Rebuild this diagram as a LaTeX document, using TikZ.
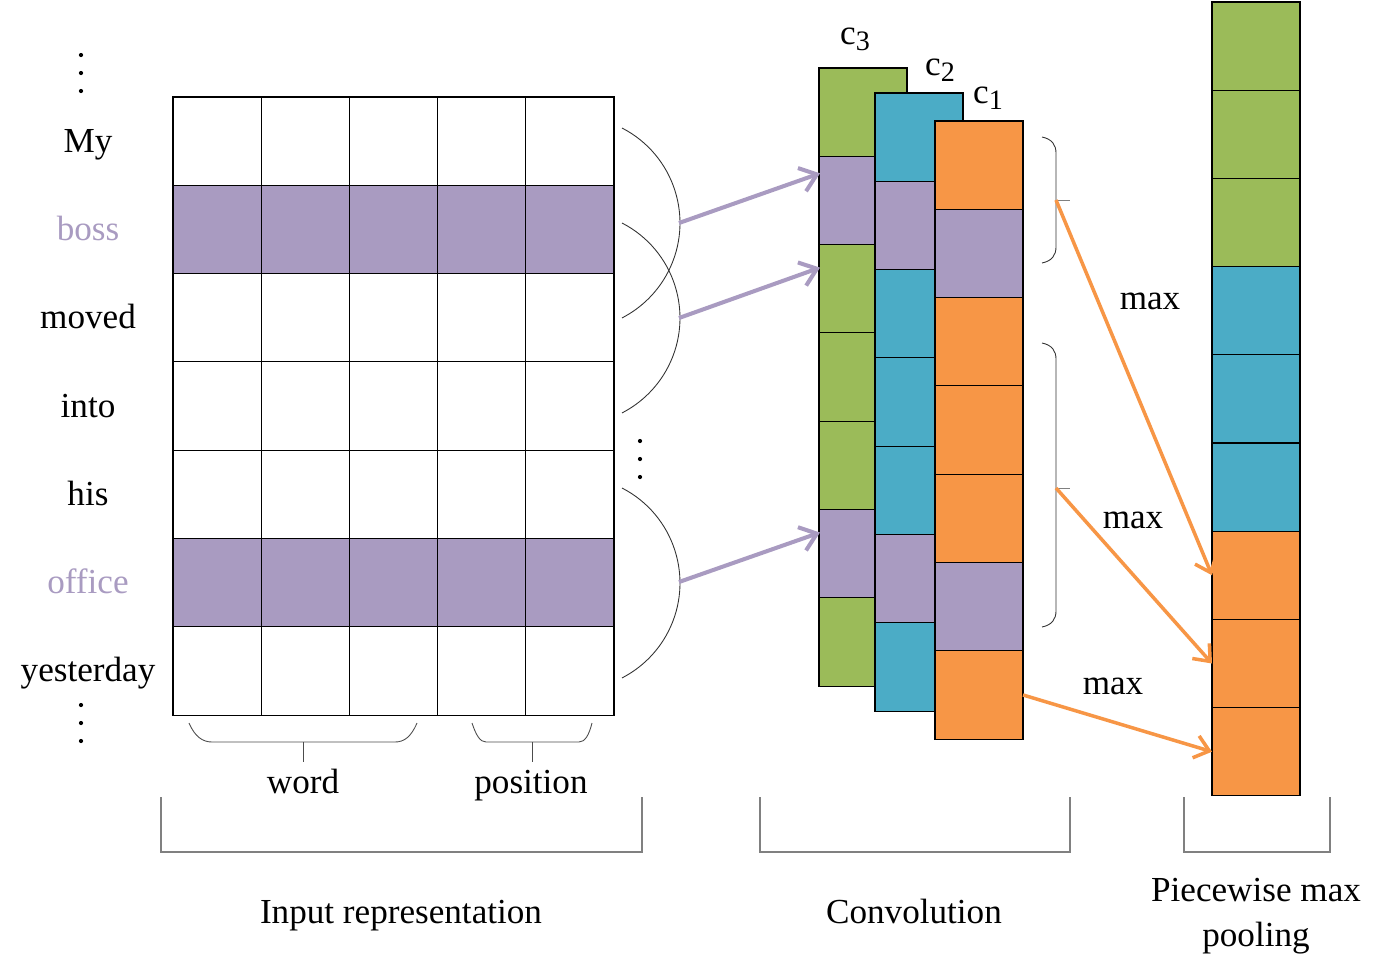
\documentclass[tikz,border=0pt]{standalone}
\usepackage{fontspec}
\setmainfont{Liberation Serif}
\usetikzlibrary{arrows.meta, positioning, calc}
\definecolor{cgreen}{HTML}{9BBB59}
\definecolor{cblue}{HTML}{4BACC6}
\definecolor{corange}{HTML}{F79646}
\definecolor{cpurple}{HTML}{A99BC1}
\newcommand{\csub}[1]{c\raisebox{-0.4ex}{\fontsize{16}{16}\selectfont #1}}

\begin{document}
\begin{tikzpicture}[
    x=0.02cm, y=-0.02cm,
    txt/.style={font=\fontsize{20}{25.5}\selectfont, inner sep=0pt, text height=1.6ex, text depth=0.3ex, yshift=-3.4pt},
    cell/.style={draw, line width=0.6pt, minimum width=1.765cm, minimum height=1.766cm, inner sep=0pt, outer sep=0pt},
    parrow/.style={line width=2.3pt, cpurple, -{Straight Barb[length=9pt, width=14pt]}},
    oarrow/.style={line width=2pt, corange, -{Straight Barb[length=8pt, width=13pt]}},
    arcline/.style={line width=0.5pt, black!80},
    group/.style={line width=0.9pt, gray},
]
    \useasboundingbox (0,0) rectangle (1390,971);

    % Input matrix
    \foreach \r/\col in {1/white,2/cpurple,3/white,4/white,5/white,6/cpurple,7/white}
        \foreach \c in {1,...,5}
            \node[cell, fill=\col] (in-\r-\c) at ({173+88.2*(\c-0.5)}, {97+88.3*(\r-0.5)}) {};

    % Words
    \node[txt] (w1) at (88,141) {My};
    \node[txt, text=cpurple] (w2) at (88,229) {boss};
    \node[txt] (w3) at (88,317) {moved};
    \node[txt] (w4) at (88,406) {into};
    \node[txt] (w5) at (88,494) {his};
    \node[txt, text=cpurple] (w6) at (88,582) {office};
    \node[txt] (w7) at (88,670) {yesterday};

    % Dots
    \foreach \x/\y in {81/55, 81/73, 81/91, 81/705, 81/723, 81/741, 640/441, 640/459, 640/477}
        \fill (\x,\y) circle[radius=1.2pt];

    % Windows
    \draw[arcline] (622,128) arc[start angle=62.8, end angle=-62.8, radius=2.136cm];
    \draw[arcline] (622,223) arc[start angle=62.8, end angle=-62.8, radius=2.136cm];
    \draw[arcline] (622,488) arc[start angle=62.8, end angle=-62.8, radius=2.136cm];
    \coordinate (apex1) at (679,223);
    \coordinate (apex2) at (679,318);
    \coordinate (apex3) at (679,582);

    % Convolution columns
    \foreach \r/\col in {1/cgreen,2/cpurple,3/cgreen,4/cgreen,5/cgreen,6/cpurple,7/cgreen}
        \node[cell, fill=\col, minimum width=1.76cm] (cthree-\r) at (863, {68+88.3*(\r-0.5)}) {};
    \foreach \r/\col in {1/cblue,2/cpurple,3/cblue,4/cblue,5/cblue,6/cpurple,7/cblue}
        \node[cell, fill=\col, minimum width=1.76cm] (ctwo-\r) at (919, {93+88.3*(\r-0.5)}) {};
    \foreach \r/\col in {1/corange,2/cpurple,3/corange,4/corange,5/corange,6/cpurple,7/corange}
        \node[cell, fill=\col, minimum width=1.76cm] (cone-\r) at (979, {121+88.3*(\r-0.5)}) {};

    \node[txt] (lab3) at (855,33) {\csub{3}};
    \node[txt] (lab2) at (940,64) {\csub{2}};
    \node[txt] (lab1) at (988,92) {\csub{1}};

    % Pooling column
    \foreach \r/\col in {1/cgreen,2/cgreen,3/cgreen,4/cblue,5/cblue,6/cblue,7/corange,8/corange,9/corange}
        \node[cell, fill=\col, minimum width=1.76cm, minimum height=1.764cm] (pool-\r) at (1256, {2+88.2*(\r-0.5)}) {};

    % Window arrows
    \draw[parrow] (apex1) -- ($(cthree-2.north west)+(1,17)$);
    \draw[parrow] (apex2) -- ($(cthree-3.north west)+(1,23)$);
    \draw[parrow] (apex3) -- ($(cthree-6.north west)+(1,23)$);

    % Segments
    \draw[arcline] (1042,137) .. controls (1052,139) and (1056,145) .. (1056,153) -- (1056,247) .. controls (1056,255) and (1052,261) .. (1042,263);
    \draw[arcline] (1042,343) .. controls (1052,345) and (1056,351) .. (1056,359) -- (1056,611) .. controls (1056,619) and (1052,625) .. (1042,627);
    \draw[arcline, gray] (1056,200) -- (1070,200);
    \draw[arcline, gray] (1056,488) -- (1070,488);
    \coordinate (seg1) at (1056,200);
    \coordinate (seg2) at (1056,488);

    % Max arrows
    \draw[oarrow] (seg1) -- (pool-7.west);
    \draw[oarrow] (seg2) -- (pool-8.west);
    \draw[oarrow] (cone-7.east) -- (pool-9.west);
    \node[txt] (max1) at (1150,298) {max};
    \node[txt] (max2) at (1133,517) {max};
    \node[txt] (max3) at (1113,683) {max};

    % Word and position braces
    \draw[arcline, black!70] (189,723) .. controls (195,737) and (203,742) .. (212,742) -- (395,742) .. controls (404,742) and (411,737) .. (417,723);
    \draw[arcline, black!70] (472,723) .. controls (476,735) and (480,742) .. (486,742) -- (579,742) .. controls (585,742) and (589,735) .. (592,723);
    \draw[arcline, black!70] (303,742) -- (303,762);
    \draw[arcline, black!70] (532,742) -- (532,762);
    \node[txt] (word) at (303,782) {word};
    \node[txt] (pos) at (531,782) {position};

    % Groups
    \draw[group] (161,797) |- (642,852) -- (642,797);
    \draw[group] (760,797) |- (1070,852) -- (1070,797);
    \draw[group] (1184,797) |- (1330,852) -- (1330,797);
    \node[txt] (g1) at (401,912) {Input representation};
    \node[txt] (g2) at (914,912) {Convolution};
    \node[txt] (g3) at (1256,890) {Piecewise max};
    \node[txt] (g4) at (1256,935) {pooling};
\end{tikzpicture}
\end{document}
